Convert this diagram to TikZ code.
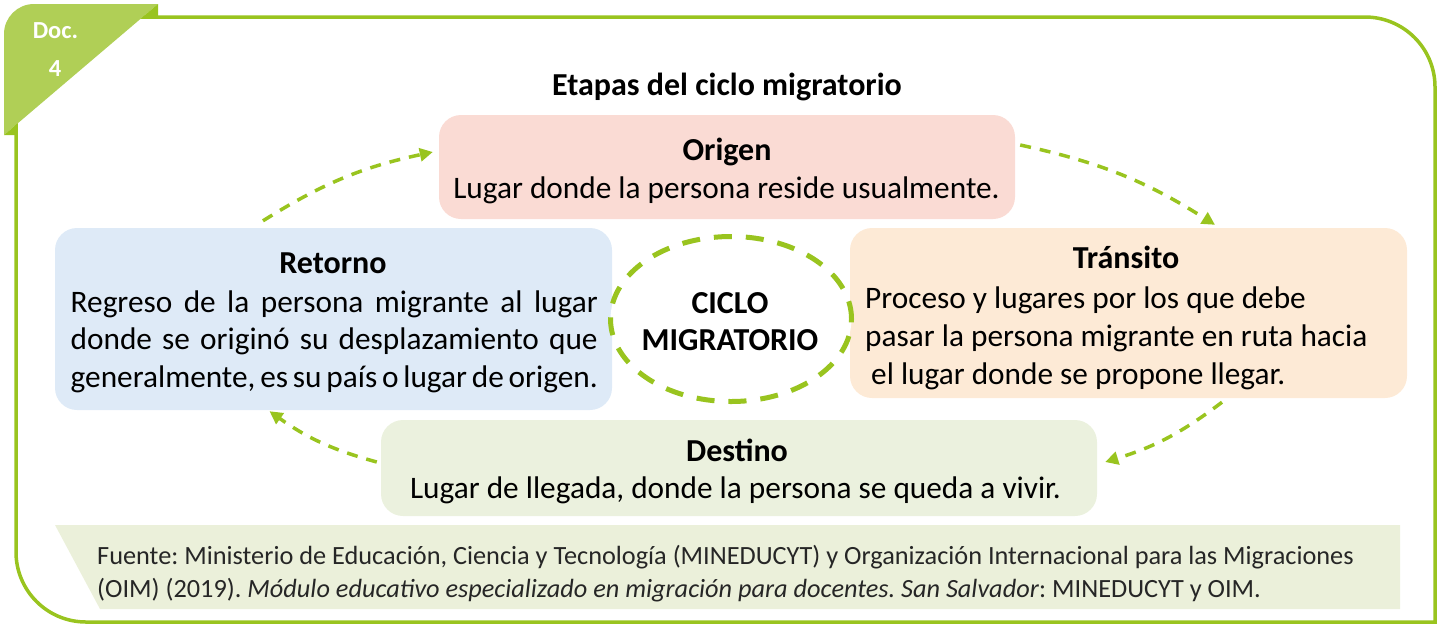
\documentclass[tikz,border=0pt]{standalone}
\usepackage{fontspec}
\setmainfont{Carlito}
\usetikzlibrary{arrows.meta}
\usetikzlibrary{shapes.geometric}
\frenchspacing
\definecolor{verde}{RGB}{153,196,31}
\definecolor{verdeclaro}{RGB}{176,207,86}
\definecolor{rosa}{RGB}{250,219,212}
\definecolor{naranja}{RGB}{253,234,214}
\definecolor{azul}{RGB}{222,234,247}
\definecolor{verdepalido}{RGB}{235,241,222}
\definecolor{fondofuente}{RGB}{235,240,218}
\definecolor{gris}{RGB}{38,38,38}
\tikzset{>={Triangle[length=13pt,width=13pt]}}
\tikzset{
    caja/.style={rounded corners=22pt, inner sep=0pt},
    titulo/.style={anchor=base, inner sep=0pt, font=\bfseries\fontsize{32}{38}\selectfont},
    linea/.style={anchor=base west, inner sep=0pt, font=\fontsize{31.3}{38}\selectfont},
    flecha/.style={->, verde, line width=3.5pt, dash pattern=on 11pt off 9pt, bend left=10},
}

\begin{document}
\begin{tikzpicture}[x=1pt,y=-1pt]

    \useasboundingbox (0,0) rectangle (1437,625);

    \draw[verde, line width=3.5pt] (16,17) -- (1365,17) arc[start angle=-90,end angle=0,radius=70]
        -- (1435,622) -- (86,622) arc[start angle=90,end angle=180,radius=70] -- cycle;

    \fill[verdeclaro] (4,135) -- (4,34) arc[start angle=180,end angle=270,radius=30] -- (158,4) -- cycle;
    \fill[verde] (158,4) -- (158,17) -- (142.7,17) -- cycle;
    \fill[verde] (4,135) -- (17,124) -- (17,135) -- cycle;
    \node[anchor=base, text=white, font=\bfseries\fontsize{24.5}{29}\selectfont] (doc) at (55.5,38) {Doc.};
    \node[anchor=base, text=white, font=\bfseries\fontsize{24.5}{29}\selectfont] (num) at (55,76) {4};

    \node[titulo] (titulo) at (727,95) {Etapas del ciclo migratorio};

    \node[caja, fill=rosa, minimum width=576pt, minimum height=104pt] (origen) at (727,167) {};
    \node[caja, fill=naranja, minimum width=557pt, minimum height=170pt] (transito) at (1128.5,313) {};
    \node[caja, fill=azul, minimum width=557pt, minimum height=182pt] (retorno) at (333.5,319) {};
    \node[caja, fill=verdepalido, minimum width=716pt, minimum height=96pt] (destino) at (739,468) {};

    \node[titulo] (t-origen) at (727,160) {Origen};
    \node[linea, anchor=base] (l-origen) at (726.5,198) {Lugar donde la persona reside usualmente.};

    \node[titulo] (t-transito) at (1126,268) {Tránsito};
    \node[linea] (l1-transito) at (865,308) {Proceso y lugares por los que debe};
    \node[linea] (l2-transito) at (865,346) {pasar la persona migrante en ruta hacia};
    \node[linea] (l3-transito) at (871,384) {el lugar donde se propone llegar.};

    \node[titulo] (t-retorno) at (333,273) {Retorno};
    \node[linea] (l1-retorno) at (70.5,312) {\makebox[527pt][s]{Regreso de la persona migrante al lugar}};
    \node[linea] (l2-retorno) at (70.5,349.5) {\makebox[527pt][s]{donde se originó su desplazamiento que}};
    \node[linea] (l3-retorno) at (70.5,387) {\makebox[527pt][s]{generalmente, es su país o lugar de origen.}};

    \node[titulo] (t-destino) at (737,461) {Destino};
    \node[linea, anchor=base] (l-destino) at (735.5,498) {Lugar de llegada, donde la persona se queda a vivir.};

    \node[ellipse, draw=verde, fill=white, line width=5pt, dash pattern=on 18pt off 14pt,
        minimum width=241pt, minimum height=165pt, inner sep=0pt] (ciclo) at (731,319) {};
    \node[titulo] (t1-ciclo) at (730,313) {CICLO};
    \node[titulo] (t2-ciclo) at (730,350) {MIGRATORIO};

    \draw[flecha] ([xshift=-70.5pt,yshift=7pt]retorno.north) to ([xshift=-6pt,yshift=15pt]origen.west);
    \draw[flecha] ([xshift=5pt,yshift=22pt]origen.east) to ([xshift=86.5pt,yshift=3pt]transito.north);
    \draw[flecha] ([xshift=93.5pt,yshift=-4pt]transito.south) to ([xshift=8pt,yshift=6pt]destino.east);
    \draw[flecha] ([xshift=-4pt,yshift=6pt]destino.west) to ([xshift=-64pt,yshift=-1pt]retorno.south);

    \fill[fondofuente] (55,525) -- (1400,525) -- (1400,609) -- (100,609) -- cycle;
    \node[linea, text=gris, font=\fontsize{26.3}{32}\selectfont] (fuente1) at (97,564)
        {Fuente: Ministerio de Educación, Ciencia y Tecnología (MINEDUCYT) y Organización Internacional para las Migraciones};
    \node[linea, text=gris, font=\fontsize{26.3}{32}\selectfont] (fuente2) at (97,597)
        {(OIM) (2019). \textit{Módulo educativo especializado en migración para docentes. San Salvador}: MINEDUCYT y OIM.};

\end{tikzpicture}
\end{document}
